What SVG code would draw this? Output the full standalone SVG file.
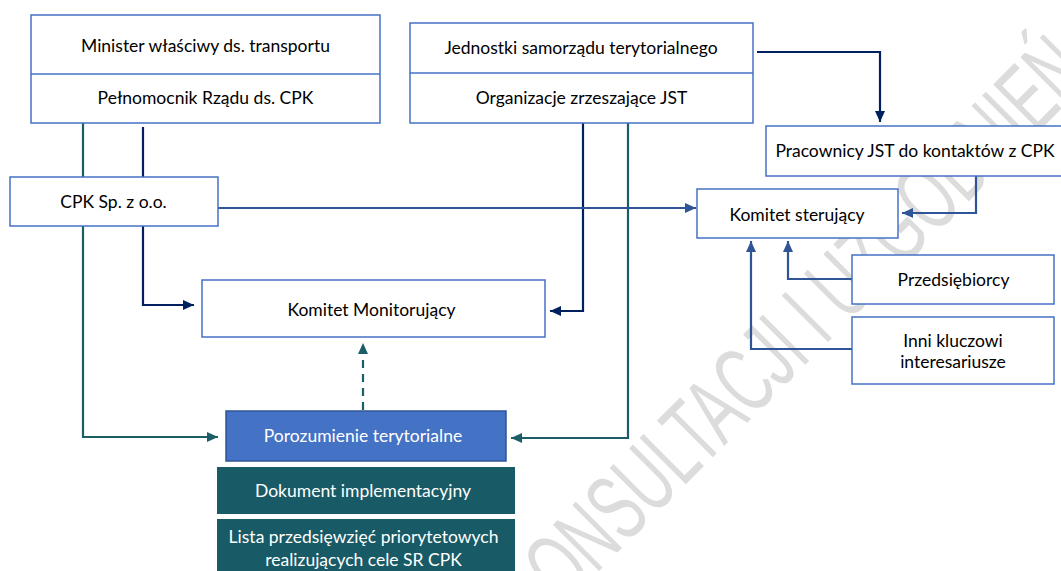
<svg xmlns="http://www.w3.org/2000/svg" width="1061" height="571" viewBox="0 0 1061 571">
  <style>
    .box { fill: #ffffff; stroke: #4472C4; stroke-width: 1.5; }
    .div { stroke: #4472C4; stroke-width: 1.5; }
    .t { font-family: Lato, "Liberation Sans", sans-serif; font-size: 17.5px; fill: #000000; text-anchor: middle; }
    .tw { font-family: Lato, "Liberation Sans", sans-serif; font-size: 17.5px; fill: #ffffff; text-anchor: middle; }
    .navy { fill: none; stroke: #002060; stroke-width: 2.2; }
    .blue { fill: none; stroke: #2F5597; stroke-width: 2.2; }
    .teal { fill: none; stroke: #1B5E68; stroke-width: 2.2; }
    .wm { font-family: "Liberation Sans", sans-serif; font-size: 95px; fill: #dcdcdc; }
  </style>
  <defs>
    <marker id="aNavy" markerUnits="userSpaceOnUse" markerWidth="12" markerHeight="12" viewBox="0 0 12 12" refX="11" refY="6" orient="auto">
      <path d="M0,1 L11,6 L0,11 Z" fill="#002060"/>
    </marker>
    <marker id="aBlue" markerUnits="userSpaceOnUse" markerWidth="12" markerHeight="12" viewBox="0 0 12 12" refX="11" refY="6" orient="auto">
      <path d="M0,1 L11,6 L0,11 Z" fill="#2F5597"/>
    </marker>
    <marker id="aTeal" markerUnits="userSpaceOnUse" markerWidth="12" markerHeight="12" viewBox="0 0 12 12" refX="11" refY="6" orient="auto">
      <path d="M0,1 L11,6 L0,11 Z" fill="#1B5E68"/>
    </marker>
  </defs>
  <rect width="1061" height="571" fill="#ffffff"/>

  <g id="watermark">
    <text class="wm" transform="translate(564,606) rotate(-45)" textLength="748" lengthAdjust="spacingAndGlyphs">ONSULTACJI I UZGODNIEŃ</text>
  </g>

  <g id="connectors">
    <path class="navy" d="M143,127 V305 H194" marker-end="url(#aNavy)"/>
    <path class="navy" d="M583,123 V311 H550" marker-end="url(#aNavy)"/>
    <path class="navy" d="M757,52 H880 V122" marker-end="url(#aNavy)"/>
    <path class="teal" d="M83,123 V437 H218" marker-end="url(#aTeal)"/>
    <path class="teal" d="M628,123 V438 H511" marker-end="url(#aTeal)"/>
    <path class="teal" d="M363,410 V343" stroke-dasharray="8,6" marker-end="url(#aTeal)"/>
    <path class="blue" d="M218,208 H696" marker-end="url(#aBlue)"/>
    <path class="blue" d="M976,176 V213 H902" marker-end="url(#aBlue)"/>
    <path class="blue" d="M852,279 H788 V241" marker-end="url(#aBlue)"/>
    <path class="blue" d="M852,349 H751 V241" marker-end="url(#aBlue)"/>
  </g>

  <g id="minister">
    <rect class="box" x="31" y="15" width="349" height="108"/>
    <line class="div" x1="31" y1="74" x2="380" y2="74"/>
    <text class="t" x="205.5" y="52">Minister właściwy ds. transportu</text>
    <text class="t" x="205.5" y="104">Pełnomocnik Rządu ds. CPK</text>
  </g>

  <g id="jst">
    <rect class="box" x="410" y="23" width="343" height="100"/>
    <line class="div" x1="410" y1="73" x2="753" y2="73"/>
    <text class="t" x="581" y="54">Jednostki samorządu terytorialnego</text>
    <text class="t" x="581.5" y="104">Organizacje zrzeszające JST</text>
  </g>

  <g id="cpk">
    <rect class="box" x="10" y="177" width="208" height="49"/>
    <text class="t" x="113.5" y="208">CPK Sp. z o.o.</text>
  </g>

  <g id="komitet-monitorujacy">
    <rect class="box" x="202" y="280" width="343" height="57"/>
    <text class="t" x="371.5" y="316">Komitet Monitorujący</text>
  </g>

  <g id="pracownicy">
    <rect class="box" x="766" y="126" width="300" height="50"/>
    <text class="t" x="915" y="157">Pracownicy JST do kontaktów z CPK</text>
  </g>

  <g id="komitet-sterujacy">
    <rect class="box" x="697" y="189" width="201" height="49"/>
    <text class="t" x="797" y="221">Komitet sterujący</text>
  </g>

  <g id="przedsiebiorcy">
    <rect class="box" x="852" y="255" width="202" height="49"/>
    <text class="t" x="953.5" y="286">Przedsiębiorcy</text>
  </g>

  <g id="inni">
    <rect class="box" x="852" y="317" width="202" height="67"/>
    <text class="t" x="953" y="347">Inni kluczowi</text>
    <text class="t" x="953" y="368">interesariusze</text>
  </g>

  <g id="porozumienie">
    <rect x="226" y="411" width="280" height="50" fill="#4472C4" stroke="#2F5597" stroke-width="1.5"/>
    <text class="tw" x="363" y="442">Porozumienie terytorialne</text>
  </g>

  <g id="dokument">
    <rect x="217" y="467" width="298" height="47" fill="#185A65"/>
    <text class="tw" x="363" y="497">Dokument implementacyjny</text>
  </g>

  <g id="lista">
    <rect x="217" y="519" width="298" height="60" fill="#185A65"/>
    <text class="tw" x="363.5" y="543">Lista przedsięwzięć priorytetowych</text>
    <text class="tw" x="363.5" y="566">realizujących cele SR CPK</text>
  </g>
</svg>
